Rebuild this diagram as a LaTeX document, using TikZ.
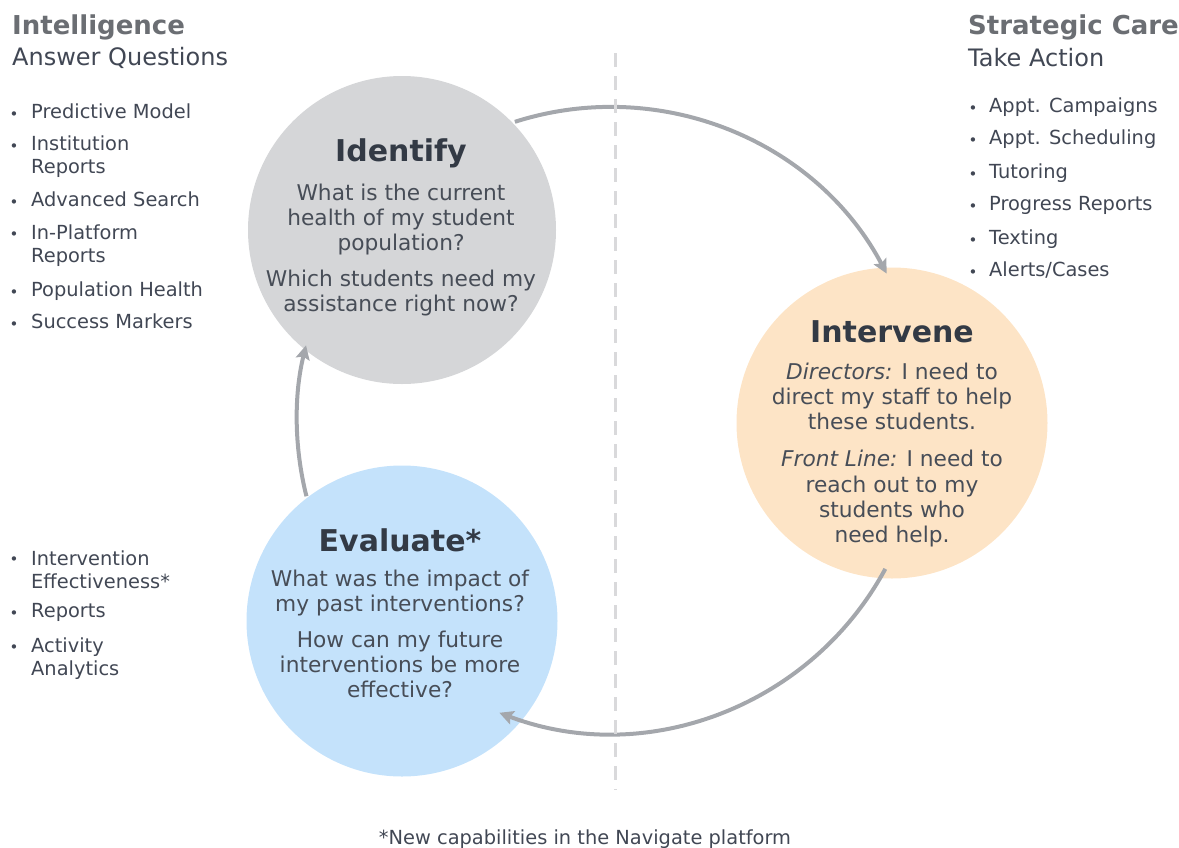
\documentclass[tikz,border=0pt]{standalone}
\usepackage{fontspec}
\setmainfont{DejaVu Sans}
\usetikzlibrary{arrows.meta,calc}
\definecolor{gcirc}{HTML}{D5D6D8}
\definecolor{ocirc}{HTML}{FDE4C6}
\definecolor{bcirc}{HTML}{C4E2FB}
\definecolor{arrowc}{HTML}{A4A7AC}
\definecolor{dashc}{HTML}{D9D9DB}
\definecolor{headc}{HTML}{6B6E73}
\definecolor{subc}{HTML}{414754}
\definecolor{titlec}{HTML}{333A45}
\definecolor{bodyc}{HTML}{474D57}
\begin{document}
\begin{tikzpicture}[x=1pt,y=-1pt,
  stage/.style={circle,inner sep=0pt,minimum size=#1},
  ttl/.style={font=\fontsize{30}{34}\selectfont\bfseries,text=titlec,inner sep=0pt},
  body/.style={font=\fontsize{21.7}{25.2}\selectfont,text=bodyc,align=center,inner sep=0pt},
  head/.style={font=\fontsize{26}{30}\selectfont\bfseries,text=headc,anchor=west,inner sep=0pt},
  sub/.style={font=\fontsize{24}{28}\selectfont,text=subc,anchor=west,inner sep=0pt},
  itm/.style={font=\fontsize{19.4}{23}\selectfont,text=subc,anchor=base west,inner sep=0pt},
  itm2/.style={font=\fontsize{19.4}{23}\selectfont,text=subc,anchor=west,align=left,inner sep=0pt},
  bul/.style={font=\fontsize{15}{17}\selectfont,text=subc,anchor=base,inner sep=0pt},
  cyc/.style={draw=arrowc,line width=4pt,-{Stealth[length=14pt,width=14pt,inset=2.5pt]}},
  divider/.style={draw=dashc,line width=3pt,dash pattern=on 14pt off 9pt}
]
\useasboundingbox (0,0) rectangle (1179,847);

% stages
\node[stage=308pt,fill=gcirc] (identify) at (402,230) {};
\node[stage=311pt,fill=ocirc] (intervene) at (892,423) {};
\node[stage=311pt,fill=bcirc] (evaluate) at (402,621) {};

% cycle arrows
\coordinate (C) at (610,420);
\coordinate (a1s) at ($(C)+(107.7:313 and -313)$);
\coordinate (a2s) at ($(C)+(-28.4:313 and -313)$);
\coordinate (a3s) at ($(C)+(194.1:313 and -313)$);
\draw[cyc] (a1s) arc[start angle=-107.7,end angle=-27.9,radius=313];
\draw[cyc] (a2s) arc[start angle=28.4,end angle=110.7,radius=313];
\draw[cyc] (a3s) arc[start angle=165.9,end angle=193.8,radius=313];

% divider
\coordinate (dtop) at (615,53);
\coordinate (dbot) at (615,790);
\draw[divider] (dtop) -- (dbot);

% stage texts
\node[ttl] (idt) at (401,153) {Identify};
\node[body] (idb) at (401,250) {What is the current\\health of my student\\population?\\[11pt]Which students need my\\assistance right now?};

\node[ttl] (int) at (892,332) {Intervene};
\node[body] (inb) at (892,455) {\textit{Directors:} I need to\\direct my staff to help\\these students.\\[12pt]\textit{Front Line:} I need to\\reach out to my\\students who\\need help.};

\node[ttl] (evt) at (400,540) {Evaluate*};
\node[body] (evb) at (400,634) {What was the impact of\\my past interventions?\\[11pt]How can my future\\interventions be more\\effective?};

% headings
\node[head] (h1) at (12,27) {Intelligence};
\node[sub] (s1) at (12,58) {Answer Questions};
\node[head] (h2) at (968,27) {Strategic Care};
\node[sub] (s2) at (968,58) {Take Action};

% left list top
\node[bul] (lb1) at (14,119) {•}; \node[itm] (l1) at (31,118.5) {Predictive Model};
\node[bul] (lb2) at (14,151) {•}; \node[itm2] (l2) at (31,157) {Institution\\Reports};
\node[bul] (lb3) at (14,207) {•}; \node[itm] (l3) at (31,206.5) {Advanced Search};
\node[bul] (lb4) at (14,239) {•}; \node[itm2] (l4) at (31,246) {In-Platform\\Reports};
\node[bul] (lb5) at (14,297) {•}; \node[itm] (l5) at (31,296.5) {Population Health};
\node[bul] (lb6) at (14,329) {•}; \node[itm] (l6) at (31,328.5) {Success Markers};

% left list bottom
\node[bul] (lb7) at (14,564) {•}; \node[itm2] (l7) at (31,570) {Intervention\\Effectiveness*};
\node[bul] (lb8) at (14,618) {•}; \node[itm] (l8) at (31,617.5) {Reports};
\node[bul] (lb9) at (14,652) {•}; \node[itm2] (l9) at (31,659) {Activity\\Analytics};

% right list
\node[bul] (rb1) at (973,113) {•}; \node[itm] (r1) at (989,112.5) {Appt. Campaigns};
\node[bul] (rb2) at (973,145) {•}; \node[itm] (r2) at (989,144.5) {Appt. Scheduling};
\node[bul] (rb3) at (973,179) {•}; \node[itm] (r3) at (989,178.5) {Tutoring};
\node[bul] (rb4) at (973,211) {•}; \node[itm] (r4) at (989,210.5) {Progress Reports};
\node[bul] (rb5) at (973,245) {•}; \node[itm] (r5) at (989,244.5) {Texting};
\node[bul] (rb6) at (973,277) {•}; \node[itm] (r6) at (989,276.5) {Alerts/Cases};

% footnote
\node[font=\fontsize{19.4}{23}\selectfont,text=subc,anchor=base,inner sep=0pt] (fn) at (585,844) {*New capabilities in the Navigate platform};
\end{tikzpicture}
\end{document}
